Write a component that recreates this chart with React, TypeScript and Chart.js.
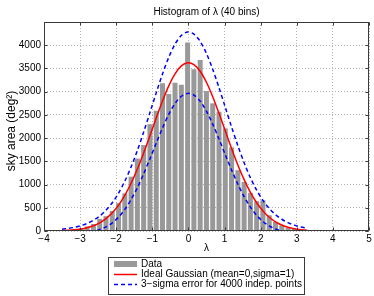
import React, { useEffect, useRef } from 'react';
import { Chart, registerables } from 'chart.js';

Chart.register(...registerables);

// Bin centres of the 40-bin histogram (lambda)
const BIN_CENTERS = [
  -3.500, -3.326, -3.152, -2.978, -2.805, -2.631, -2.457, -2.283, -2.109, -1.935,
  -1.762, -1.588, -1.414, -1.240, -1.066, -0.892, -0.718, -0.545, -0.371, -0.197,
  -0.023, 0.151, 0.325, 0.498, 0.672, 0.846, 1.020, 1.194, 1.368, 1.542,
  1.715, 1.889, 2.063, 2.237, 2.411, 2.585, 2.758, 2.932, 3.106, 3.280,
];

// Histogram values (sky area, deg^2)
const COUNTS = [
  10, 18, 30, 55, 100, 150, 260, 320, 430, 600,
  810, 1170, 1560, 1850, 2300, 2590, 3180, 2950, 3190, 3150,
  4056, 3482, 3683, 3014, 2749, 2568, 2209, 1799, 1310, 1057,
  820, 641, 662, 339, 194, 123, 73, 43, 30, 15,
];

// Ideal Gaussian curve read at the bin centres
const GAUSS_IDEAL = [
  8, 14, 25, 43, 71, 114, 177, 268, 392, 557,
  768, 1028, 1334, 1681, 2053, 2435, 2801, 3125, 3384, 3555,
  3624, 3584, 3439, 3202, 2892, 2534, 2155, 1778, 1423, 1105,
  832, 609, 432, 297, 198, 129, 81, 49, 29, 17,
];

// Upper and lower 3-sigma envelopes
const GAUSS_UPPER = [
  39, 56, 80, 115, 164, 231, 323, 447, 609, 816,
  1073, 1380, 1735, 2131, 2551, 2976, 3382, 3739, 4023, 4210,
  4285, 4241, 4083, 3823, 3482, 3087, 2665, 2240, 1837, 1470,
  1149, 879, 660, 486, 353, 253, 179, 126, 88, 62,
];
const GAUSS_LOWER = [
  -23, -27, -30, -29, -22, -3, 31, 88, 175, 298,
  464, 676, 933, 1230, 1556, 1893, 2219, 2512, 2745, 2901,
  2963, 2927, 2795, 2580, 2301, 1981, 1645, 1315, 1009, 740,
  516, 338, 204, 108, 44, 4, -18, -28, -30, -28,
];

const X_TICKS = [-4, -3, -2, -1, 0, 1, 2, 3, 4, 5];
const Y_TICKS = [0, 500, 1000, 1500, 2000, 2500, 3000, 3500, 4000];
const X_MIN = -4;
const X_MAX = 5;
const Y_MIN = 0;
const Y_MAX = 4500;

const TITLE = 'Histogram of λ (40 bins)';
const X_LABEL = 'λ';
const Y_LABEL = 'sky area (deg²)';
const LEGEND_LABELS = [
  'Data',
  'Ideal Gaussian (mean=0,sigma=1)',
  '3−sigma error for 4000 indep. points',
];

const FONT = '"Liberation Sans", Arial, Helvetica, sans-serif';
const BAR_COLOR = '#999999';
const RED = '#ff0000';
const BLUE = '#0000ff';
const FRAME = '#3a3a3a';

export default function App() {
  const ref = useRef<HTMLCanvasElement>(null);

  useEffect(() => {
    document.body.style.margin = '0';
    const canvas = ref.current;
    if (!canvas) return;

    const toXY = (ys: number[]) => ys.map((y, i) => ({ x: BIN_CENTERS[i], y }));

    const decor = {
      id: 'decor',
      afterDraw(chart: any) {
        const { ctx, chartArea: a, scales } = chart;
        ctx.save();
        const L = Math.round(a.left) + 0.5;
        const R = Math.round(a.right) - 0.5;
        const T = Math.round(a.top) + 0.5;
        const B = Math.round(a.bottom) - 0.5;
        ctx.strokeStyle = FRAME;
        ctx.lineWidth = 1;
        ctx.setLineDash([]);
        ctx.strokeRect(L, T, R - L, B - T);
        const line = (x1: number, y1: number, x2: number, y2: number) => {
          ctx.beginPath();
          ctx.moveTo(x1, y1);
          ctx.lineTo(x2, y2);
          ctx.stroke();
        };
        for (const v of X_TICKS) {
          const x = Math.round(scales.x.getPixelForValue(v)) + 0.5;
          line(x, B, x, B - 3);
          line(x, T, x, T + 3);
        }
        for (const v of Y_TICKS) {
          const y = Math.round(scales.y.getPixelForValue(v)) + 0.5;
          line(L, y, L + 3, y);
          line(R, y, R - 3, y);
        }

        const cx = (a.left + a.right) / 2;
        ctx.fillStyle = '#000';
        ctx.textAlign = 'center';
        ctx.textBaseline = 'middle';
        ctx.font = `10px ${FONT}`;
        ctx.fillText(TITLE, cx, 12);
        ctx.fillText(X_LABEL, cx, 248);

        ctx.save();
        ctx.translate(12, 131);
        ctx.rotate(-Math.PI / 2);
        ctx.font = `12px ${FONT}`;
        ctx.fillText(Y_LABEL, 0, 0);
        ctx.restore();

        // legend box
        const bx = 108.5, by = 257.5, bw = 196, bh = 37;
        ctx.fillStyle = '#ffffff';
        ctx.fillRect(bx, by, bw, bh);
        ctx.strokeStyle = FRAME;
        ctx.strokeRect(bx, by, bw, bh);

        const sx1 = 114, sx2 = 137, tx = 141;
        const rows = [264, 274.5, 284.5];
        ctx.fillStyle = BAR_COLOR;
        ctx.fillRect(sx1, rows[0] - 3, sx2 - sx1, 6);

        ctx.strokeStyle = RED;
        ctx.lineWidth = 1.5;
        line(sx1, rows[1], sx2, rows[1]);

        ctx.strokeStyle = BLUE;
        ctx.setLineDash([4, 3]);
        line(sx1, rows[2], sx2, rows[2]);
        ctx.setLineDash([]);

        ctx.fillStyle = '#000';
        ctx.textAlign = 'left';
        ctx.font = `10px ${FONT}`;
        LEGEND_LABELS.forEach((t, i) => ctx.fillText(t, tx, rows[i]));
        ctx.restore();
      },
    };

    const gridOpts = { color: '#b4b4b4', lineWidth: 1, drawTicks: false, offset: false };
    const borderOpts = { display: false, dash: [1, 2] };

    const chart = new Chart(canvas, {
      type: 'bar',
      data: {
        datasets: [
          {
            type: 'line',
            label: LEGEND_LABELS[1],
            data: toXY(GAUSS_IDEAL),
            borderColor: RED,
            borderWidth: 1.5,
            pointRadius: 0,
            tension: 0.3,
            fill: false,
            order: 0,
          },
          {
            type: 'line',
            label: LEGEND_LABELS[2],
            data: toXY(GAUSS_UPPER),
            borderColor: BLUE,
            borderWidth: 1.5,
            borderDash: [4, 3],
            pointRadius: 0,
            tension: 0.3,
            fill: false,
            order: 0,
          },
          {
            type: 'line',
            label: LEGEND_LABELS[2] + ' (lower)',
            data: toXY(GAUSS_LOWER),
            borderColor: BLUE,
            borderWidth: 1.5,
            borderDash: [4, 3],
            pointRadius: 0,
            tension: 0.3,
            fill: false,
            order: 0,
          },
          {
            type: 'bar',
            label: LEGEND_LABELS[0],
            data: toXY(COUNTS),
            backgroundColor: BAR_COLOR,
            borderWidth: 0,
            barPercentage: 0.8,
            categoryPercentage: 1,
            order: 1,
          },
        ] as any,
      },
      options: {
        responsive: false,
        animation: false,
        layout: { padding: { top: 22, right: 5, bottom: 51, left: 0 } },
        plugins: {
          legend: { display: false },
          title: { display: false },
          tooltip: { enabled: false },
        },
        scales: {
          x: {
            type: 'linear',
            min: X_MIN,
            max: X_MAX,
            offset: false,
            afterBuildTicks: (s: any) => {
              s.ticks = X_TICKS.map((v) => ({ value: v }));
            },
            afterFit: (s: any) => {
              s.height = 14;
            },
            ticks: {
              font: { family: FONT, size: 10 },
              color: '#000',
              padding: 2,
              maxRotation: 0,
              autoSkip: false,
              callback: (v: any) => String(v).replace('-', '−'),
            },
            grid: gridOpts,
            border: borderOpts,
          },
          y: {
            type: 'linear',
            min: Y_MIN,
            max: Y_MAX,
            afterBuildTicks: (s: any) => {
              s.ticks = [...Y_TICKS, Y_MAX].map((v) => ({ value: v }));
            },
            afterFit: (s: any) => {
              s.width = 44;
            },
            ticks: {
              font: { family: FONT, size: 10 },
              color: '#000',
              padding: 3,
              autoSkip: false,
              callback: (v: any) => (Y_TICKS.includes(v) ? String(v) : ''),
            },
            grid: gridOpts,
            border: borderOpts,
          },
        },
      } as any,
      plugins: [decor],
    });

    return () => chart.destroy();
  }, []);

  return (
    <div style={{ width: 374, height: 296 }}>
      <canvas ref={ref} width={374} height={296} style={{ display: 'block' }} />
    </div>
  );
}
